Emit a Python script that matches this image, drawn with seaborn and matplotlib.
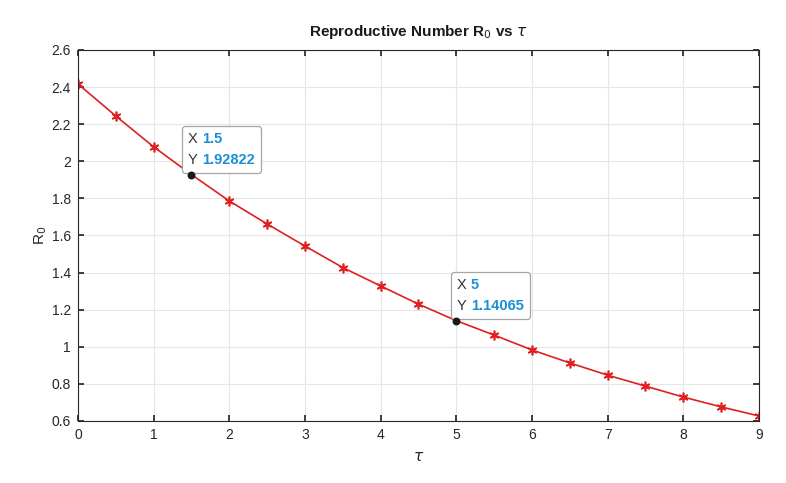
import pandas as pd
import matplotlib.pyplot as plt
import seaborn as sns
from matplotlib.offsetbox import TextArea, HPacker, VPacker, AnnotationBbox

# --- DATA ---
tau = [0, 0.5, 1, 1.5, 2, 2.5, 3, 3.5, 4, 4.5, 5, 5.5, 6, 6.5, 7, 7.5, 8, 8.5, 9]
r0 = [2.417, 2.244, 2.078, 1.92822, 1.786, 1.662, 1.543, 1.427, 1.328, 1.230,
      1.14065, 1.063, 0.983, 0.913, 0.847, 0.788, 0.729, 0.676, 0.627]
tip_x = [1.5, 5]
tip_y = [1.92822, 1.14065]
tip_labels = [("1.5", "1.92822"), ("5", "1.14065")]
tip_shift = [-2.5, 0.5]  # horizontal nudge of each datatip box (points)

df = pd.DataFrame({"tau": tau, "R0": r0})

sns.set_theme(style="whitegrid")
plt.rcParams['font.family'] = ['Liberation Sans', 'DejaVu Sans']

fig, ax = plt.subplots(figsize=(7.86, 4.83), dpi=100)
fig.subplots_adjust(left=0.0992, right=0.9656, top=0.8965, bottom=0.1284)

# line with asterisk markers (not at datatip points)
mark_idx = [i for i, t in enumerate(tau) if t not in tip_x]
sns.lineplot(data=df, x="tau", y="R0", ax=ax, color="#de2020", linewidth=1.2,
             marker=(6, 2, 0), markersize=7, markeredgewidth=1.2,
             markeredgecolor="#de2020", markevery=mark_idx)

# datatip dots
ax.scatter(tip_x, tip_y, s=22, color="#1a1a1a", zorder=7)

ax.set_xlim(0, 9)
ax.set_ylim(0.6, 2.6)
ax.set_xticks(range(0, 10))
ax.set_yticks([0.6, 0.8, 1, 1.2, 1.4, 1.6, 1.8, 2, 2.2, 2.4, 2.6])
ax.set_yticklabels(["0.6", "0.8", "1", "1.2", "1.4", "1.6", "1.8", "2", "2.2", "2.4", "2.6"])

ax.grid(True, color="#e6e6e6", linewidth=0.8)
for s in ax.spines.values():
    s.set_color("#262626")
    s.set_linewidth(0.8)
ax.tick_params(direction="in", length=4, color="#262626", labelsize=10,
               labelcolor="#262626", left=True, bottom=True, right=True, top=True,
               labelright=False, labeltop=False, pad=5)

ax.set_title(r"Reproductive Number R$_0$ vs $\tau$", fontsize=11, fontweight="bold",
             color="#1a1a1a", pad=10)
ax.set_xlabel(r"$\tau$", fontsize=11, color="#262626", labelpad=6)
ax.set_ylabel(r"R$_0$", fontsize=11, color="#262626", labelpad=2)

# datatip boxes
for (x, y), (xs, ys), dx in zip(zip(tip_x, tip_y), tip_labels, tip_shift):
    row1 = HPacker(children=[TextArea("X", textprops=dict(color="#333333", fontsize=10.5)),
                             TextArea(xs, textprops=dict(color="#1a8fd6", fontsize=10.5, fontweight="bold"))],
                   pad=0, sep=3)
    row2 = HPacker(children=[TextArea("Y", textprops=dict(color="#333333", fontsize=10.5)),
                             TextArea(ys, textprops=dict(color="#1a8fd6", fontsize=10.5, fontweight="bold"))],
                   pad=0, sep=3)
    box = VPacker(children=[row1, row2], pad=0, sep=5, align="left")
    ab = AnnotationBbox(box, (x, y), xybox=(dx, 5.5), xycoords="data",
                        boxcoords="offset points", box_alignment=(0, 0),
                        pad=0.4,
                        bboxprops=dict(boxstyle="round,pad=0.4,rounding_size=0.2",
                                       facecolor="white", edgecolor="#a6a6a6",
                                       linewidth=0.9), zorder=6)
    ax.add_artist(ab)

plt.savefig("out.png", dpi=100)
plt.close()
